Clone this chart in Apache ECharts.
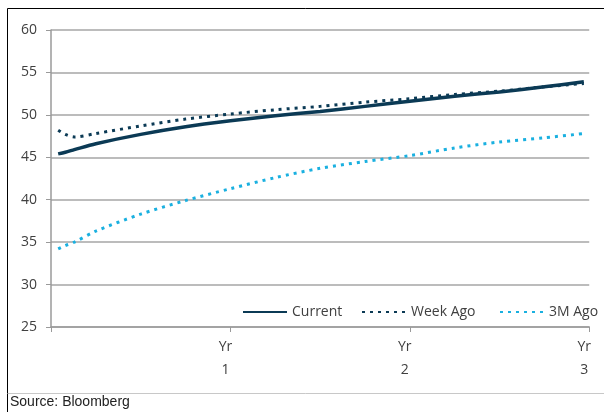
<!DOCTYPE html>
<html><head><meta charset="utf-8">
<script src="https://cdn.jsdelivr.net/npm/echarts@6/dist/echarts.min.js"></script>
<style>html,body{margin:0;padding:0;background:#fff}#c{width:604px;height:412px}</style>
</head><body><div id="c"></div>
<script>
// Years to maturity (x), values per series
var years    = [0.04, 0.08, 0.13, 0.25, 0.5, 0.75, 1, 1.25, 1.5, 1.75, 2, 2.25, 2.5, 2.75, 2.97];
var current  = [45.4, 45.6, 45.9, 46.6, 47.7, 48.6, 49.3, 49.9, 50.4, 51.0, 51.6, 52.2, 52.7, 53.3, 53.9];
var weekAgo  = [48.2, 47.7, 47.4, 47.8, 48.7, 49.5, 50.1, 50.6, 51.0, 51.5, 51.9, 52.4, 52.8, 53.3, 53.7];
var m3Ago    = [34.2, 34.6, 35.0, 36.3, 38.3, 39.9, 41.3, 42.6, 43.7, 44.5, 45.2, 46.1, 46.8, 47.3, 47.8];
var seriesNames = ['Current', 'Week Ago', '3M Ago'];
var xTickLabels = {1: 'Yr\n1', 2: 'Yr\n2', 3: 'Yr\n3'};
var sourceText = 'Source: Bloomberg';

function pairs(v){ return years.map(function(x,i){ return [x, v[i]]; }); }
var FONT = '"Open Sans", sans-serif';
var chart = echarts.init(document.getElementById('c'), null, {renderer:'canvas'});
var legendBase = {orient:'horizontal', top: 305, padding:0, itemWidth: 44, itemHeight: 14, itemGap: 4,
  itemStyle:{opacity:0},
  textStyle:{fontFamily:FONT, fontSize:14, color:'#404040', padding:[0,0,0,0]}, selectedMode:false};
chart.setOption({
  animation:false,
  backgroundColor:'#fff',
  grid:{left:51, top:30, right:6, bottom:85, containLabel:false},
  xAxis:{type:'value', min:0, max:3, interval:1,
    axisLine:{show:true, onZero:false, lineStyle:{color:'#9a9a9a', width:1.5}},
    axisTick:{show:true, length:5, lineStyle:{color:'#9a9a9a'}},
    splitLine:{show:false},
    axisLabel:{fontFamily:FONT, fontSize:14, color:'#404040', lineHeight:23, margin:9,
      padding:[0,10,0,0],
      formatter:function(v){ return xTickLabels[v] || ''; }}},
  yAxis:{type:'value', min:25, max:60, interval:5,
    axisLine:{show:true, lineStyle:{color:'#9a9a9a', width:1.5}},
    axisTick:{show:true, length:5, lineStyle:{color:'#9a9a9a'}},
    splitLine:{show:true, lineStyle:{color:'#a6a6a6', width:1.5}},
    axisLabel:{fontFamily:FONT, fontSize:14, color:'#404040', margin:14}},
  legend:[
    Object.assign({}, legendBase, {left:242, data:[seriesNames[0]]}),
    Object.assign({}, legendBase, {left:361, data:[seriesNames[1]]}),
    Object.assign({}, legendBase, {left:499, data:[seriesNames[2]]})
  ],
  series:[
    {name:seriesNames[0], type:'line', data:pairs(current), symbol:'none', smooth:0.3,
      lineStyle:{color:'#0b3a55', width:3.5}, itemStyle:{color:'#0b3a55'}, z:3},
    {name:seriesNames[1], type:'line', data:pairs(weekAgo), symbol:'none', smooth:0.3,
      lineStyle:{color:'#0b3a55', width:3, type:[3,5]}, itemStyle:{color:'#0b3a55'}, z:2},
    {name:seriesNames[2], type:'line', data:pairs(m3Ago), symbol:'none', smooth:0.3,
      lineStyle:{color:'#1ab0e0', width:3, type:[3,5]}, itemStyle:{color:'#1ab0e0'}, z:2}
  ],
  graphic:[
    {type:'line', shape:{x1:7.5, y1:8.5, x2:604, y2:8.5}, style:{stroke:'#000', lineWidth:1}},
    {type:'line', shape:{x1:7.5, y1:8.5, x2:7.5, y2:412}, style:{stroke:'#000', lineWidth:1}},
    {type:'line', shape:{x1:7.5, y1:393.5, x2:604, y2:393.5}, style:{stroke:'#c8c8c8', lineWidth:1}},
    {type:'text', left:10, top:395, style:{text:sourceText, font:'14px "Liberation Sans", sans-serif', fill:'#222'}}
  ]
});
</script></body></html>
